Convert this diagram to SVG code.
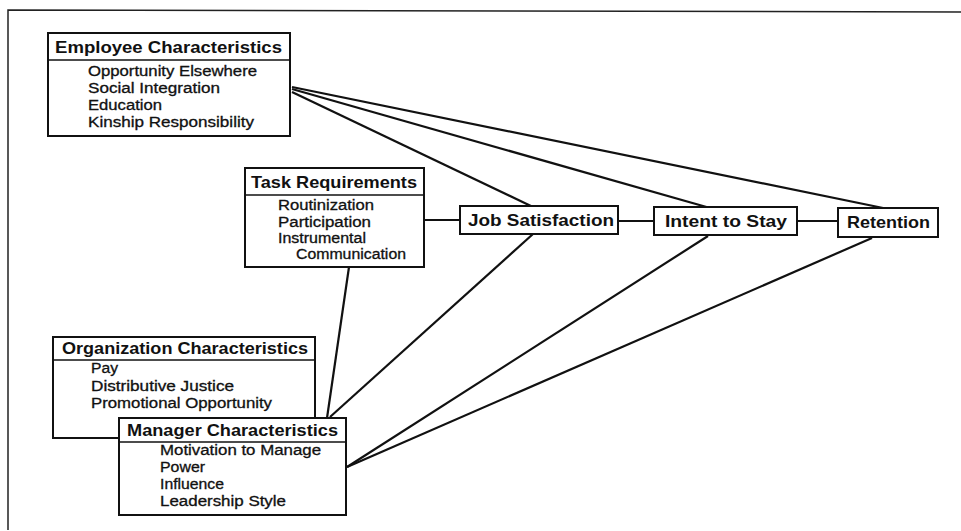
<svg xmlns="http://www.w3.org/2000/svg" width="961" height="531" viewBox="0 0 961 531">
<style>
.box{fill:#fff;stroke:#111;stroke-width:2}
.div{stroke:#111;stroke-width:1.6}
.ln{stroke:#111;stroke-width:2.2;fill:none}
.t{font-family:"Liberation Sans",Arial,sans-serif;font-size:16.5px;font-weight:bold;fill:#111}
.i{font-family:"Liberation Sans",Arial,sans-serif;font-size:14px;fill:#111;stroke:#111;stroke-width:0.3}
</style>
<rect width="961" height="531" fill="#fff"/>
<path d="M8,530 L8,10 L961,12" fill="none" stroke="#222" stroke-width="1.5"/>
<g id="connectors">
<line class="ln" x1="292" y1="87" x2="888" y2="209"/>
<line class="ln" x1="292" y1="89" x2="710" y2="208"/>
<line class="ln" x1="292" y1="92" x2="533" y2="207"/>
<line class="ln" x1="424" y1="220" x2="460" y2="220"/>
<line class="ln" x1="618" y1="221" x2="654" y2="221"/>
<line class="ln" x1="797" y1="221" x2="838" y2="221"/>
<line class="ln" x1="349" y1="267" x2="327" y2="418"/>
<line class="ln" x1="330" y1="417" x2="533" y2="234"/>
<line class="ln" x1="347" y1="467" x2="708" y2="236"/>
<line class="ln" x1="347" y1="467" x2="872" y2="238"/>
</g>
<g id="employee">
<rect class="box" x="48" y="33" width="242" height="103"/>
<line class="div" x1="48" y1="60" x2="290" y2="60"/>
<text class="t" x="55" y="53" textLength="227" lengthAdjust="spacingAndGlyphs">Employee Characteristics</text>
<text class="i" x="88" y="76" textLength="169" lengthAdjust="spacingAndGlyphs">Opportunity Elsewhere</text>
<text class="i" x="88" y="93" textLength="132" lengthAdjust="spacingAndGlyphs">Social Integration</text>
<text class="i" x="88" y="110" textLength="74" lengthAdjust="spacingAndGlyphs">Education</text>
<text class="i" x="88" y="127" textLength="166" lengthAdjust="spacingAndGlyphs">Kinship Responsibility</text>
</g>
<g id="task">
<rect class="box" x="245" y="168" width="179" height="99"/>
<line class="div" x1="245" y1="195" x2="424" y2="195"/>
<text class="t" x="251" y="188" textLength="166" lengthAdjust="spacingAndGlyphs">Task Requirements</text>
<text class="i" x="278" y="210" textLength="96" lengthAdjust="spacingAndGlyphs">Routinization</text>
<text class="i" x="278" y="227" textLength="93" lengthAdjust="spacingAndGlyphs">Participation</text>
<text class="i" x="278" y="243" textLength="88" lengthAdjust="spacingAndGlyphs">Instrumental</text>
<text class="i" x="296" y="259" textLength="110" lengthAdjust="spacingAndGlyphs">Communication</text>
</g>
<g id="job">
<rect class="box" x="460" y="206" width="158" height="28"/>
<text class="t" x="468" y="226" textLength="146" lengthAdjust="spacingAndGlyphs">Job Satisfaction</text>
</g>
<g id="intent">
<rect class="box" x="654" y="207" width="143" height="28"/>
<text class="t" x="665" y="227" textLength="122" lengthAdjust="spacingAndGlyphs">Intent to Stay</text>
</g>
<g id="retention">
<rect class="box" x="838" y="208" width="100" height="29"/>
<text class="t" x="847" y="228" textLength="83" lengthAdjust="spacingAndGlyphs">Retention</text>
</g>
<g id="organization">
<rect class="box" x="53" y="337" width="262" height="101"/>
<line class="div" x1="53" y1="360" x2="315" y2="360"/>
<text class="t" x="62" y="354" textLength="246" lengthAdjust="spacingAndGlyphs">Organization Characteristics</text>
<text class="i" x="91" y="373" textLength="27" lengthAdjust="spacingAndGlyphs">Pay</text>
<text class="i" x="91" y="391" textLength="143" lengthAdjust="spacingAndGlyphs">Distributive Justice</text>
<text class="i" x="91" y="408" textLength="181" lengthAdjust="spacingAndGlyphs">Promotional Opportunity</text>
</g>
<g id="manager">
<rect class="box" x="119" y="418" width="227" height="97"/>
<line class="div" x1="119" y1="442" x2="346" y2="442"/>
<text class="t" x="127" y="436" textLength="211" lengthAdjust="spacingAndGlyphs">Manager Characteristics</text>
<text class="i" x="160" y="455" textLength="161" lengthAdjust="spacingAndGlyphs">Motivation to Manage</text>
<text class="i" x="160" y="472" textLength="45" lengthAdjust="spacingAndGlyphs">Power</text>
<text class="i" x="160" y="489" textLength="64" lengthAdjust="spacingAndGlyphs">Influence</text>
<text class="i" x="160" y="506" textLength="126" lengthAdjust="spacingAndGlyphs">Leadership Style</text>
</g>
</svg>
